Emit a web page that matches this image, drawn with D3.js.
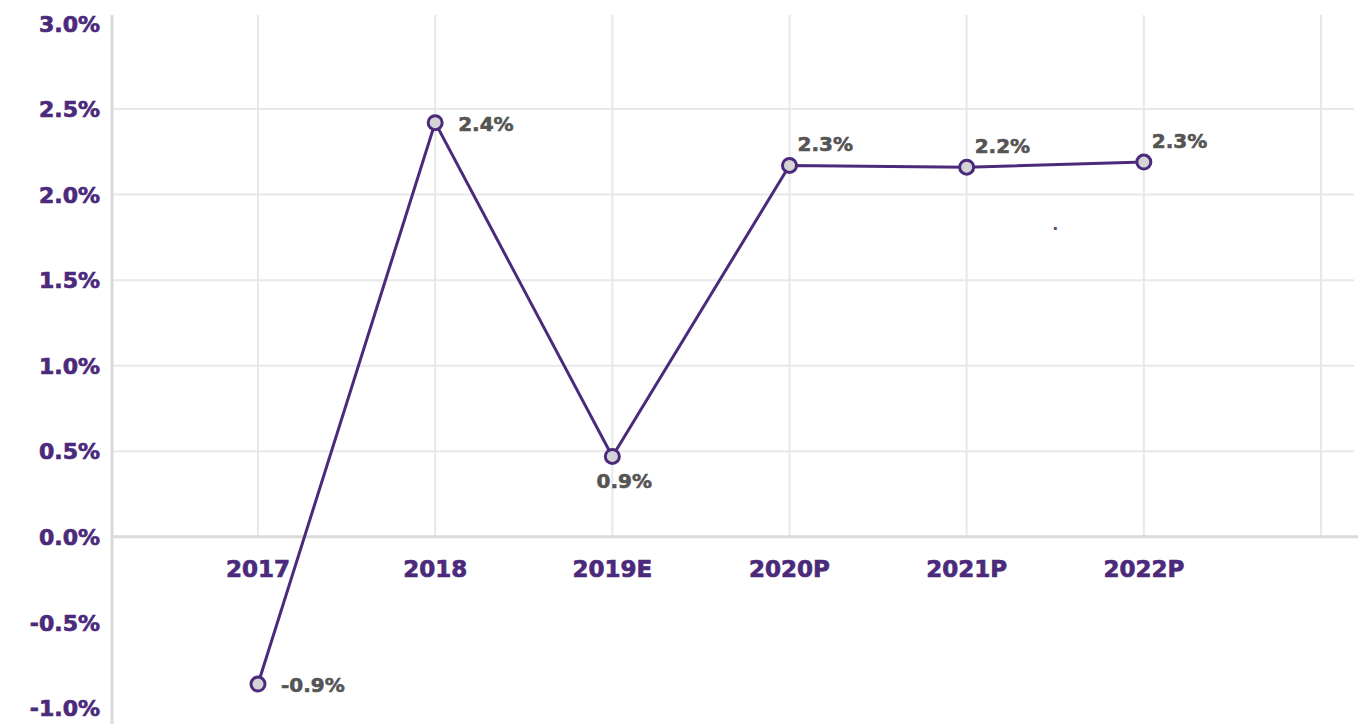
<!DOCTYPE html>
<html>
<head>
<meta charset="utf-8">
<script src="https://cdn.jsdelivr.net/npm/d3@7"></script>
<style>
  body { margin: 0; background: #fff; }
  text { font-family: "DejaVu Sans", sans-serif; font-weight: bold; }
</style>
</head>
<body>
<div id="chart"></div>
<script>
// data
var categories = ["2017", "2018", "2019E", "2020P", "2021P", "2022P"];
var values = [-0.86, 2.42, 0.47, 2.17, 2.16, 2.19];
var valueLabels = ["-0.9%", "2.4%", "0.9%", "2.3%", "2.2%", "2.3%"];
var labelSide = ["right", "right", "below", "above", "above", "above"];
var yTicks = [-1.0, -0.5, 0.0, 0.5, 1.0, 1.5, 2.0, 2.5, 3.0];

var width = 1367, height = 724;
var purple = "#4b2a7b", gridColor = "#e8e8e8", axisColor = "#d9d9d9", labelGray = "#555555";

var svg = d3.select("#chart").append("svg")
  .attr("width", width)
  .attr("height", height);

// slot 6 is an empty category at the right edge
var x = d3.scaleLinear().domain([0, 6]).range([258, 1321]);
var y = d3.scaleLinear().domain([-1.0, 3.0]).range([708, 23.4]);

// horizontal gridlines (only positive, skip top)
svg.selectAll("line.hgrid")
  .data(yTicks.filter(function(d){ return d > 0 && d < 3; }))
  .enter().append("line")
  .attr("class", "hgrid")
  .attr("x1", 113).attr("x2", 1354)
  .attr("y1", function(d){ return y(d); })
  .attr("y2", function(d){ return y(d); })
  .attr("stroke", gridColor).attr("stroke-width", 2);

// vertical gridlines, above zero only
svg.selectAll("line.vgrid")
  .data(d3.range(7))
  .enter().append("line")
  .attr("class", "vgrid")
  .attr("x1", function(d){ return x(d); })
  .attr("x2", function(d){ return x(d); })
  .attr("y1", 15).attr("y2", y(0))
  .attr("stroke", gridColor).attr("stroke-width", 2);

// zero line
svg.append("line")
  .attr("x1", 112).attr("x2", 1358)
  .attr("y1", y(0)).attr("y2", y(0))
  .attr("stroke", axisColor).attr("stroke-width", 3);

// y axis line
svg.append("line")
  .attr("x1", 112).attr("x2", 112)
  .attr("y1", 15).attr("y2", height)
  .attr("stroke", axisColor).attr("stroke-width", 3);

// y tick labels
svg.selectAll("text.ytick")
  .data(yTicks)
  .enter().append("text")
  .attr("class", "ytick")
  .attr("x", 100)
  .attr("y", function(d){ return y(d); })
  .attr("dy", "0.37em")
  .attr("text-anchor", "end")
  .attr("fill", purple)
  .attr("stroke", purple).attr("stroke-width", 0.7)
  .attr("font-size", 22)
  .text(function(d){ return d.toFixed(1) + "%"; });

// x tick labels
svg.selectAll("text.xtick")
  .data(categories)
  .enter().append("text")
  .attr("class", "xtick")
  .attr("x", function(d, i){ return x(i); })
  .attr("y", y(0) + 40)
  .attr("text-anchor", "middle")
  .attr("fill", purple)
  .attr("stroke", purple).attr("stroke-width", 0.7)
  .attr("font-size", 23)
  .text(function(d){ return d; });

// line
var line = d3.line()
  .x(function(d, i){ return x(i); })
  .y(function(d){ return y(d); });

svg.append("path")
  .datum(values)
  .attr("d", line)
  .attr("fill", "none")
  .attr("stroke", purple)
  .attr("stroke-width", 3);

// points
svg.selectAll("circle.pt")
  .data(values)
  .enter().append("circle")
  .attr("class", "pt")
  .attr("cx", function(d, i){ return x(i); })
  .attr("cy", function(d){ return y(d); })
  .attr("r", 7)
  .attr("fill", "#d4d4d6")
  .attr("stroke", purple)
  .attr("stroke-width", 3);

// value labels
svg.selectAll("text.vlabel")
  .data(values)
  .enter().append("text")
  .attr("class", "vlabel")
  .attr("x", function(d, i){
    var s = labelSide[i];
    if (s == "right") return x(i) + 23;
    if (s == "below") return x(i) + 12;
    return x(i) + 8;
  })
  .attr("y", function(d, i){
    var s = labelSide[i];
    if (s == "right") return y(d) + 8;
    if (s == "below") return y(d) + 32;
    return y(d) - 14;
  })
  .attr("text-anchor", function(d, i){ return labelSide[i] == "below" ? "middle" : "start"; })
  .attr("fill", labelGray)
  .attr("stroke", labelGray).attr("stroke-width", 0.6)
  .attr("font-size", 20)
  .text(function(d, i){ return valueLabels[i]; });

// stray dot left in the original
svg.append("text")
  .attr("x", x(4.5)).attr("y", y(1.79))
  .attr("text-anchor", "middle")
  .attr("fill", labelGray)
  .attr("font-size", 16)
  .text(".");
</script>
</body>
</html>
